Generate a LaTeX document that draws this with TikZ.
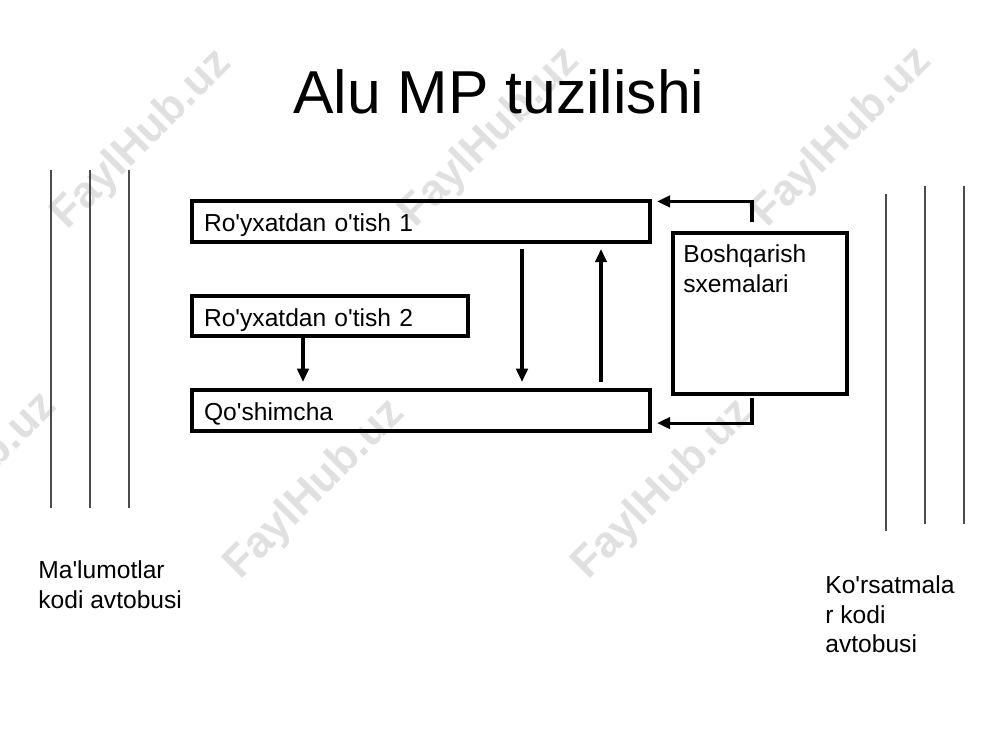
\documentclass[tikz,border=0pt]{standalone}
\usepackage{fontspec}
\setmainfont{Liberation Sans}[Ligatures=TeXOff]
\usetikzlibrary{arrows.meta}

\tikzset{
	regbox/.style={draw, line width=1.8pt, inner xsep=0.24cm, inner ysep=0pt, text height=11.5pt, text depth=0pt, align=left, font=\fontsize{14}{17}\selectfont},
	flowarrow/.style={line width=1.8pt, -{Triangle[length=7.5pt,width=6.5pt]}},
	busline/.style={line width=0.6pt, color=black!70},
	plaintext/.style={anchor=north west, inner sep=0pt, align=left, font=\fontsize{14}{17}\selectfont},
	wmark/.style={rotate=45, color=black!12, font=\bfseries\fontsize{25}{25}\selectfont},
}

\begin{document}
\begin{tikzpicture}[x=0.02cm, y=-0.02cm]
		%%%%% START %%%%%
		\useasboundingbox (0, 0) rectangle (1000, 750);
		
		\node[wmark] (wm1) at (142, 140) {FaylHub.uz};
		\node[wmark] (wm2) at (490, 138) {FaylHub.uz};
		\node[wmark] (wm3) at (842, 138) {FaylHub.uz};
		\node[wmark] (wm4) at (-33, 483) {FaylHub.uz};
		\node[wmark] (wm5) at (315, 490) {FaylHub.uz};
		\node[wmark] (wm6) at (663, 490) {FaylHub.uz};
		
		\node[anchor=base, font=\fontsize{34.5}{40}\selectfont] (title) at (499, 113) {Alu MP tuzilishi};
		
		\foreach \x in {51, 90, 129}
			\draw[busline] (\x, 170) -- (\x, 508);
		\draw[busline] (886, 194) -- (886, 531);
		\draw[busline] (925, 186) -- (925, 524);
		\draw[busline] (964, 186) -- (964, 524);
		
		\node[plaintext] (datalbl) at (38, 560) {Ma'lumotlar\\kodi avtobusi};
		\node[plaintext] (cmdlbl) at (825, 575) {Ko'rsatmala\\r kodi\\avtobusi};
		
		\node[regbox, text width=8.68cm, minimum height=0.82cm] (reg1) at (421, 221.5) {Ro'yxatdan o'tish 1};
		\node[regbox, text width=5.04cm, minimum height=0.8cm] (reg2) at (330, 316) {Ro'yxatdan o'tish 2};
		\node[regbox, text width=8.68cm, minimum height=0.82cm] (adder) at (421, 410.5) {Qo'shimcha};
		
		\node[draw, line width=1.8pt, minimum width=3.48cm, minimum height=3.22cm] (ctrl) at (760, 313.5) {};
		\node[plaintext] (ctrltext) at (683, 244) {Boshqarish\\sxemalari};
		
		\coordinate (colA) at (303, 0);
		\coordinate (colB) at (522, 0);
		\coordinate (colC) at (601, 0);
		
		\draw[flowarrow, shorten >=3.7pt] (reg2.south -| colA) -- (adder.north -| colA);
		\draw[flowarrow, shorten <=3.1pt, shorten >=3.7pt] (reg1.south -| colB) -- (adder.north -| colB);
		\draw[flowarrow, shorten <=3.7pt, shorten >=3.1pt] (adder.north -| colC) -- (reg1.south -| colC);
		
		\draw[flowarrow, shorten >=3.1pt] ([xshift=-0.16cm, yshift=0.18cm]ctrl.north) |- ([yshift=-0.04cm]reg1.north east);
		\draw[flowarrow, shorten >=3.1pt] ([xshift=-0.16cm, yshift=-0.05cm]ctrl.south) |- ([yshift=0.19cm]adder.south east);
		
		%%%%% END %%%%%
	\end{tikzpicture}
\end{document}
